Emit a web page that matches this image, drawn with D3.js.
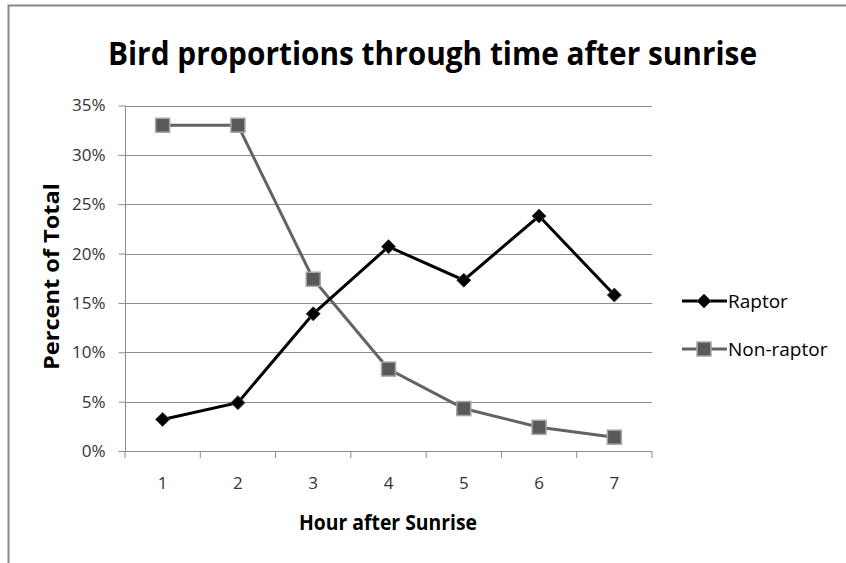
<!DOCTYPE html>
<html><head><meta charset="utf-8">
<script src="https://cdn.jsdelivr.net/npm/d3@7"></script>
<style>body{margin:0;background:#fff}svg{display:block}</style>
</head><body>
<svg id="c" width="846" height="563"></svg>
<script>
const hours = ["1","2","3","4","5","6","7"];
const raptor = [3.2, 4.9, 13.9, 20.7, 17.3, 23.8, 15.8];
const nonRaptor = [33.0, 33.0, 17.4, 8.3, 4.3, 2.4, 1.4];
const yTicks = [0,5,10,15,20,25,30,35];
const seriesNames = ["Raptor","Non-raptor"];

const font = "'Open Sans',sans-serif";
const svg = d3.select("#c");
svg.append("rect").attr("x",8.5).attr("y",5.5).attr("width",900).attr("height",600)
  .attr("fill","#fff").attr("stroke","#888").attr("stroke-width",2);

const L=125, R=652, T=105.5, B=451;
const x = d3.scaleBand().domain(hours).range([L,R]);
const y = d3.scaleLinear().domain([0,35]).range([B,T]);

// gridlines
svg.append("g").selectAll("line").data(yTicks.filter(d=>d>0)).join("line")
  .attr("x1",L).attr("x2",R).attr("y1",d=>Math.round(y(d))+0.5).attr("y2",d=>Math.round(y(d))+0.5)
  .attr("stroke","#8c8c8c").attr("stroke-width",1);

// y axis
const ya = svg.append("g").attr("transform",`translate(${L+0.5},0)`)
  .call(d3.axisLeft(y).tickValues(yTicks).tickFormat(d=>d+"%").tickSize(7).tickPadding(13));
ya.selectAll("path,line").attr("stroke","#8c8c8c");
ya.select(".domain").attr("d",`M0,${T}V${B}`);
ya.selectAll("text").attr("font-family",font).attr("font-size",17).attr("fill","#333");

// x axis
const xa = svg.append("g").attr("transform",`translate(0,${B+0.5})`)
  .call(d3.axisBottom(x).tickSize(0).tickPadding(25));
xa.selectAll("path").attr("stroke","#8c8c8c");
xa.select(".domain").attr("d",`M${L},0H${R}`);
xa.selectAll("text").attr("font-family",font).attr("font-size",17).attr("fill","#333");
svg.append("g").selectAll("line").data(d3.range(hours.length+1)).join("line")
  .attr("x1",i=>L+i*x.step()).attr("x2",i=>L+i*x.step()).attr("y1",B).attr("y2",B+7)
  .attr("stroke","#8c8c8c");

const cx = d=>x(d)+x.bandwidth()/2;
const line = d3.line().x((d,i)=>cx(hours[i])).y(d=>y(d));

// non-raptor
svg.append("path").datum(nonRaptor).attr("d",line).attr("fill","none")
  .attr("stroke","#636363").attr("stroke-width",3);
svg.append("g").selectAll("rect").data(nonRaptor).join("rect")
  .attr("x",(d,i)=>cx(hours[i])-7).attr("y",d=>y(d)-7).attr("width",14).attr("height",14)
  .attr("fill","#595959").attr("stroke","#a6a6a6").attr("stroke-width",1.5);

// raptor
svg.append("path").datum(raptor).attr("d",line).attr("fill","none")
  .attr("stroke","#000").attr("stroke-width",3);
const diamond = "M0,-7L7,0L0,7L-7,0Z";
svg.append("g").selectAll("path").data(raptor).join("path")
  .attr("transform",(d,i)=>`translate(${cx(hours[i])},${y(d)})`).attr("d",diamond)
  .attr("fill","#000").attr("stroke","#444").attr("stroke-width",1);

// title
svg.append("text").attr("x",108).attr("y",65)
  .attr("textLength",649).attr("lengthAdjust","spacingAndGlyphs")
  .attr("font-family",font).attr("font-size",33).attr("font-weight","bold").attr("fill","#000")
  .text("Bird proportions through time after sunrise");

// axis titles
svg.append("text").attr("transform","translate(59,370) rotate(-90)")
  .attr("textLength",187).attr("lengthAdjust","spacingAndGlyphs")
  .attr("font-family",font).attr("font-size",22).attr("font-weight","bold").text("Percent of Total");
svg.append("text").attr("x",299).attr("y",530)
  .attr("textLength",178).attr("lengthAdjust","spacingAndGlyphs")
  .attr("font-family",font).attr("font-size",21).attr("font-weight","bold").text("Hour after Sunrise");

// legend
const lg = svg.append("g");
const legY = [301, 349];
seriesNames.forEach((name,i)=>{
  const yy = legY[i];
  lg.append("line").attr("x1",682).attr("x2",727).attr("y1",yy).attr("y2",yy)
    .attr("stroke", i===0?"#000":"#636363").attr("stroke-width",3);
  if(i===0){
    lg.append("path").attr("transform",`translate(704,${yy})`).attr("d",diamond).attr("fill","#000").attr("stroke","#444");
  } else {
    lg.append("rect").attr("x",697).attr("y",yy-7).attr("width",14).attr("height",14)
      .attr("fill","#595959").attr("stroke","#a6a6a6").attr("stroke-width",1.5);
  }
  lg.append("text").attr("x",728).attr("y",yy+7).attr("font-family",font).attr("font-size",19)
    .attr("fill","#000").text(name);
});
</script>
</body></html>
